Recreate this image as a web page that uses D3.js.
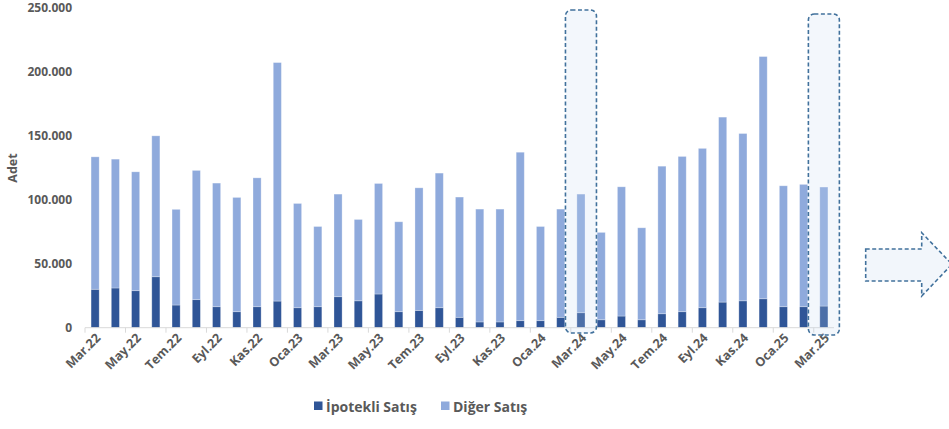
<!DOCTYPE html>
<html lang="tr">
<head>
<meta charset="utf-8">
<script src="https://cdn.jsdelivr.net/npm/d3@7"></script>
<style>
  html, body { margin: 0; padding: 0; background: #fff; }
  svg { display: block; font-family: "Open Sans", "Liberation Sans", sans-serif; }
</style>
</head>
<body>
<svg id="chart" width="949" height="429"></svg>
<script>
// Monthly house sales (adet), March 2022 – March 2025
const months = [
  "Mar.22","Nis.22","May.22","Haz.22","Tem.22","Ağu.22","Eyl.22","Eki.22","Kas.22","Ara.22",
  "Oca.23","Şub.23","Mar.23","Nis.23","May.23","Haz.23","Tem.23","Ağu.23","Eyl.23","Eki.23","Kas.23","Ara.23",
  "Oca.24","Şub.24","Mar.24","Nis.24","May.24","Haz.24","Tem.24","Ağu.24","Eyl.24","Eki.24","Kas.24","Ara.24",
  "Oca.25","Şub.25","Mar.25"
];

// Mortgaged sales
const ipotekliSatis = [
  30000, 31000, 28900, 39800, 17700, 21900, 16400, 12500, 16400, 20800,
  15600, 16400, 24200, 21000, 26300, 12500, 13500, 15600, 8100, 4500, 4500, 5500,
  5500, 8100, 11700, 6200, 9100, 6200, 10900, 12500, 15600, 20000, 21000, 22600,
  16400, 16400, 16900
];

// Other sales
const digerSatis = [
  103400, 100600, 92800, 110000, 74700, 100900, 96500, 89200, 100600, 186200,
  81400, 62600, 80100, 63500, 86300, 70200, 95700, 105100, 93900, 88100, 88100, 131500,
  73500, 84500, 92600, 68200, 100900, 71800, 115200, 121200, 124400, 144400, 130600, 189100,
  94400, 95500, 92900
];

const seriesNames = ["İpotekli Satış", "Diğer Satış"];
const seriesColors = ["#2f5597", "#8faadc"];
const yTicks = [0, 50000, 100000, 150000, 200000, 250000];
const highlighted = ["Mar.24", "Mar.25"];

const svg = d3.select("#chart");

const plot = { left: 85, right: 834, top: 7.5, bottom: 327.7 };

const x = d3.scaleBand()
  .domain(months)
  .range([plot.left, plot.right])
  .paddingInner(0.6)
  .paddingOuter(0.3);

const y = d3.scaleLinear()
  .domain([0, 250000])
  .range([plot.bottom, plot.top]);

const trLocale = d3.formatLocale({ decimal: ",", thousands: ".", grouping: [3], currency: ["₺", ""] });
const fmt = trLocale.format(",d");

// Stack the two series
const rows = months.map((m, i) => ({ month: m, ipotekli: ipotekliSatis[i], diger: digerSatis[i] }));
const stacked = d3.stack().keys(["ipotekli", "diger"])(rows);

svg.append("g")
  .selectAll("g")
  .data(stacked)
  .join("g")
  .attr("fill", (d, i) => seriesColors[i])
  .selectAll("rect")
  .data(d => d)
  .join("rect")
  .attr("x", d => x(d.data.month))
  .attr("width", x.bandwidth())
  .attr("y", d => y(d[1]))
  .attr("height", d => y(d[0]) - y(d[1]))
  .attr("stroke", "rgba(255,255,255,0.35)")
  .attr("stroke-width", 0.8);

// Y axis labels (no axis line)
const yAxis = svg.append("g")
  .attr("transform", "translate(72,0)")
  .call(d3.axisLeft(y).tickValues(yTicks).tickFormat(fmt).tickSize(0).tickPadding(0));
yAxis.select(".domain").remove();
yAxis.selectAll("text")
  .attr("fill", "#595959")
  .attr("font-size", 12)
  .attr("font-weight", 700)
  .attr("font-family", "Open Sans, sans-serif");

// Y axis title
svg.append("text")
  .attr("transform", "translate(17,168) rotate(-90)")
  .attr("text-anchor", "middle")
  .attr("fill", "#595959")
  .attr("font-size", 12.5)
  .attr("font-weight", 700)
  .text("Adet");

// X axis: baseline, tick marks every two months, rotated labels
const xg = svg.append("g");
xg.append("line")
  .attr("x1", plot.left).attr("x2", plot.right)
  .attr("y1", plot.bottom).attr("y2", plot.bottom)
  .attr("stroke", "#d9d9d9").attr("stroke-width", 1);

const step = x.step();
const labelled = months.filter((m, i) => i % 2 === 0);

xg.selectAll("line.tick")
  .data(labelled)
  .join("line")
  .attr("class", "tick")
  .attr("x1", d => x(d) - x.paddingInner() * step / 2)
  .attr("x2", d => x(d) - x.paddingInner() * step / 2)
  .attr("y1", plot.bottom)
  .attr("y2", plot.bottom + 5)
  .attr("stroke", "#d9d9d9");

xg.selectAll("text")
  .data(labelled)
  .join("text")
  .attr("transform", d => `translate(${x(d) + x.bandwidth() / 2 + 3},${plot.bottom + 8}) rotate(-45)`)
  .attr("text-anchor", "end")
  .attr("dy", "0.35em")
  .attr("fill", "#595959")
  .attr("font-size", 12.5)
  .attr("font-weight", 700)
  .text(d => d);

// Highlight frames around selected months
const frameTops = [10, 14];
const frameBottoms = [333, 335];
svg.append("g")
  .selectAll("rect")
  .data(highlighted)
  .join("rect")
  .attr("x", d => x(d) + x.bandwidth() / 2 - 15.5)
  .attr("y", (d, i) => frameTops[i])
  .attr("width", 31)
  .attr("height", (d, i) => frameBottoms[i] - frameTops[i])
  .attr("rx", 6)
  .attr("fill", "#c5d9ee")
  .attr("fill-opacity", 0.2)
  .attr("stroke", "#41719c")
  .attr("stroke-width", 1.6)
  .attr("stroke-dasharray", "4,2.5");

// Right-pointing block arrow
svg.append("path")
  .attr("d", "M865.7,249 H921.7 V232.7 L952,264.3 L921.7,296 V281 H865.7 Z")
  .attr("fill", "#f2f6fb")
  .attr("stroke", "#41719c")
  .attr("stroke-width", 1.6)
  .attr("stroke-dasharray", "4,2.5");

// Legend
const legend = svg.append("g");
const legendX = [314, 441];
seriesNames.forEach((name, i) => {
  legend.append("rect")
    .attr("x", legendX[i]).attr("y", 401.5)
    .attr("width", 8.5).attr("height", 8.5)
    .attr("fill", seriesColors[i]);
  legend.append("text")
    .attr("x", legendX[i] + 12).attr("y", 411.5)
    .attr("fill", "#595959")
    .attr("font-size", 14)
    .attr("font-weight", 700)
    .text(name);
});
</script>
</body>
</html>
